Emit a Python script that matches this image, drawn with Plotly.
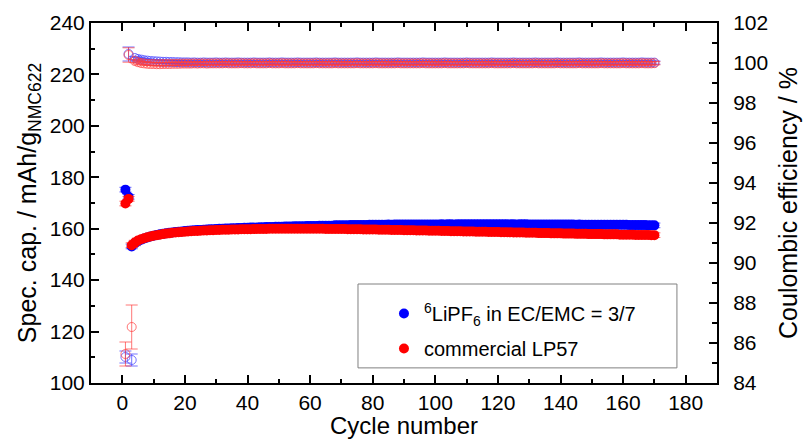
import plotly.graph_objects as go

cycles = list(range(1, 171))

cap_blue = [175.2, 172.4, 153.1, 154.3, 155.1, 155.7, 156.2, 156.6, 157.0, 157.3,
            157.6, 157.8, 158.0, 158.2, 158.4, 158.5, 158.7, 158.8, 158.9, 159.1,
            159.2, 159.3, 159.4, 159.5, 159.5, 159.6, 159.7, 159.8, 159.8, 159.9,
            160.0, 160.0, 160.1, 160.1, 160.2, 160.2, 160.3, 160.3, 160.4, 160.4,
            160.5, 160.5, 160.5, 160.6, 160.6, 160.7, 160.7, 160.7, 160.8, 160.8,
            160.8, 160.9, 160.9, 160.9, 161.0, 161.0, 161.0, 161.0, 161.1, 161.1,
            161.1, 161.1, 161.2, 161.2, 161.2, 161.2, 161.2, 161.3, 161.3, 161.3,
            161.3, 161.3, 161.4, 161.4, 161.4, 161.4, 161.4, 161.4, 161.5, 161.5,
            161.5, 161.5, 161.5, 161.5, 161.6, 161.5, 161.6, 161.6, 161.6, 161.6,
            161.6, 161.6, 161.6, 161.6, 161.6, 161.6, 161.6, 161.6, 161.6, 161.6,
            161.6, 161.7, 161.6, 161.7, 161.7, 161.6, 161.7, 161.7, 161.7, 161.7,
            161.7, 161.7, 161.7, 161.7, 161.7, 161.7, 161.7, 161.7, 161.7, 161.7,
            161.7, 161.7, 161.7, 161.7, 161.7, 161.6, 161.7, 161.7, 161.7, 161.6,
            161.6, 161.6, 161.6, 161.6, 161.6, 161.6, 161.6, 161.6, 161.6, 161.6,
            161.6, 161.6, 161.6, 161.6, 161.5, 161.6, 161.5, 161.5, 161.5, 161.5,
            161.5, 161.5, 161.5, 161.5, 161.5, 161.5, 161.5, 161.5, 161.5, 161.5,
            161.5, 161.4, 161.4, 161.4, 161.4, 161.4, 161.4, 161.3, 161.3, 161.3]

cap_red = [169.8, 171.6, 153.6, 154.6, 155.4, 155.9, 156.3, 156.7, 157.0, 157.3,
           157.5, 157.7, 157.9, 158.1, 158.2, 158.4, 158.5, 158.6, 158.7, 158.8,
           158.9, 159.0, 159.1, 159.1, 159.2, 159.3, 159.3, 159.4, 159.4, 159.5,
           159.5, 159.6, 159.6, 159.6, 159.7, 159.7, 159.7, 159.8, 159.8, 159.8,
           159.8, 159.9, 159.9, 159.9, 159.9, 159.9, 160.0, 160.0, 160.0, 160.0,
           160.0, 160.0, 160.0, 160.0, 160.0, 160.0, 160.0, 160.0, 160.0, 160.0,
           160.0, 160.0, 160.0, 160.0, 159.9, 159.9, 159.9, 159.9, 159.9, 159.9,
           159.9, 159.8, 159.8, 159.8, 159.8, 159.8, 159.7, 159.7, 159.7, 159.7,
           159.7, 159.6, 159.6, 159.6, 159.6, 159.5, 159.5, 159.5, 159.5, 159.4,
           159.4, 159.4, 159.4, 159.3, 159.3, 159.3, 159.3, 159.2, 159.2, 159.2,
           159.2, 159.1, 159.1, 159.1, 159.0, 159.0, 159.0, 159.0, 158.9, 158.9,
           158.9, 158.9, 158.8, 158.8, 158.8, 158.8, 158.7, 158.7, 158.7, 158.7,
           158.6, 158.6, 158.6, 158.6, 158.5, 158.5, 158.5, 158.5, 158.4, 158.4,
           158.4, 158.4, 158.3, 158.3, 158.3, 158.3, 158.2, 158.2, 158.2, 158.2,
           158.1, 158.1, 158.1, 158.1, 158.0, 158.0, 158.0, 158.0, 157.9, 157.9,
           157.9, 157.9, 157.9, 157.8, 157.8, 157.8, 157.8, 157.8, 157.7, 157.7,
           157.7, 157.7, 157.7, 157.6, 157.6, 157.6, 157.6, 157.6, 157.5, 157.5]

ce_blue = [85.30, 100.45, 85.15, 100.25, 100.20, 100.17, 100.14, 100.12, 100.10, 100.09,
           100.08, 100.07, 100.06, 100.06, 100.05, 100.05, 100.04, 100.04, 100.03, 100.03,
           100.03, 100.02, 100.03, 100.02, 100.02, 100.03, 100.02, 100.02, 100.02, 100.03,
           100.02, 100.02, 100.03, 100.02, 100.02, 100.02, 100.03, 100.02, 100.02, 100.02,
           100.02, 100.03, 100.02, 100.02, 100.02, 100.02, 100.03, 100.02, 100.02, 100.02,
           100.03, 100.02, 100.02, 100.02, 100.02, 100.03, 100.02, 100.02, 100.02, 100.02,
           100.02, 100.03, 100.02, 100.02, 100.02, 100.02, 100.02, 100.03, 100.02, 100.02,
           100.02, 100.02, 100.02, 100.02, 100.03, 100.02, 100.02, 100.02, 100.02, 100.02,
           100.03, 100.02, 100.02, 100.02, 100.02, 100.02, 100.02, 100.03, 100.02, 100.02,
           100.02, 100.02, 100.02, 100.02, 100.02, 100.03, 100.02, 100.02, 100.02, 100.02,
           100.02, 100.02, 100.03, 100.02, 100.02, 100.02, 100.02, 100.02, 100.02, 100.03,
           100.02, 100.02, 100.02, 100.02, 100.02, 100.02, 100.02, 100.03, 100.02, 100.02,
           100.02, 100.02, 100.02, 100.02, 100.03, 100.02, 100.02, 100.02, 100.02, 100.02,
           100.02, 100.03, 100.02, 100.02, 100.02, 100.02, 100.02, 100.02, 100.03, 100.02,
           100.02, 100.02, 100.02, 100.02, 100.02, 100.03, 100.02, 100.02, 100.02, 100.02,
           100.02, 100.02, 100.03, 100.02, 100.02, 100.02, 100.02, 100.02, 100.02, 100.03,
           100.02, 100.02, 100.02, 100.02, 100.02, 100.03, 100.02, 100.02, 100.02, 100.02]

ce_red = [85.45, 100.40, 86.80, 100.10, 100.04, 100.00, 99.98, 99.96, 99.95, 99.95,
          99.94, 99.94, 99.95, 99.95, 99.95, 99.96, 99.96, 99.96, 99.97, 99.97,
          99.97, 99.97, 99.98, 99.97, 99.98, 99.98, 99.97, 99.98, 99.98, 99.98,
          99.98, 99.98, 99.99, 99.98, 99.98, 99.98, 99.98, 99.99, 99.98, 99.98,
          99.98, 99.99, 99.98, 99.98, 99.98, 99.98, 99.99, 99.98, 99.98, 99.98,
          99.99, 99.98, 99.98, 99.98, 99.98, 99.99, 99.98, 99.98, 99.98, 99.98,
          99.98, 99.99, 99.98, 99.98, 99.98, 99.98, 99.98, 99.99, 99.98, 99.98,
          99.98, 99.98, 99.98, 99.98, 99.99, 99.98, 99.98, 99.98, 99.98, 99.98,
          99.99, 99.98, 99.98, 99.98, 99.98, 99.98, 99.98, 99.99, 99.98, 99.98,
          99.98, 99.98, 99.98, 99.98, 99.98, 99.99, 99.98, 99.98, 99.98, 99.98,
          99.98, 99.98, 99.99, 99.98, 99.98, 99.98, 99.98, 99.98, 99.98, 99.99,
          99.98, 99.98, 99.98, 99.98, 99.98, 99.98, 99.98, 99.99, 99.98, 99.98,
          99.98, 99.98, 99.98, 99.98, 99.99, 99.98, 99.98, 99.98, 99.98, 99.98,
          99.98, 99.99, 99.98, 99.98, 99.98, 99.98, 99.98, 99.98, 99.99, 99.98,
          99.98, 99.98, 99.98, 99.98, 99.98, 99.99, 99.98, 99.98, 99.98, 99.98,
          99.98, 99.98, 99.99, 99.98, 99.98, 99.98, 99.98, 99.98, 99.98, 99.99,
          99.98, 99.98, 99.98, 99.98, 99.98, 99.99, 99.98, 99.98, 99.98, 99.99]

cap_err = 0.9
ce_err_blue_first = [0.30, 0.35, 0.30]
ce_err_red_first = [0.60, 0.36, 1.10]
ce_err_rest = 0.08

ce_err_blue = ce_err_blue_first + [ce_err_rest] * (len(cycles) - 3)
ce_err_red = ce_err_red_first + [ce_err_rest] * (len(cycles) - 3)

series_names = ["<sup>6</sup>LiPF<sub>6</sub> in EC/EMC = 3/7", "commercial LP57"]

BLUE = "#0000FF"
RED = "#FF0000"
FONT = "Liberation Sans, Arial, sans-serif"

fig = go.Figure()

# Coulombic efficiency (open circles, right axis)
fig.add_trace(go.Scatter(
    x=cycles, y=ce_blue, yaxis="y2", mode="markers", showlegend=False,
    marker=dict(symbol="circle-open", size=9, color="rgba(70,70,255,0.75)", line=dict(width=1)),
    error_y=dict(type="data", array=ce_err_blue, color="rgba(70,70,255,0.75)", thickness=1, width=6),
))
fig.add_trace(go.Scatter(
    x=cycles, y=ce_red, yaxis="y2", mode="markers", showlegend=False,
    marker=dict(symbol="circle-open", size=9, color="rgba(255,60,60,0.7)", line=dict(width=1)),
    error_y=dict(type="data", array=ce_err_red, color="rgba(255,60,60,0.7)", thickness=1, width=6),
))

# Specific capacity (filled circles, left axis)
fig.add_trace(go.Scatter(
    x=cycles, y=cap_blue, mode="markers", name=series_names[0], legendgroup="a",
    marker=dict(symbol="circle", size=10, color=BLUE),
    error_y=dict(type="constant", value=cap_err, color="rgba(60,60,255,0.8)", thickness=1, width=6),
))
fig.add_trace(go.Scatter(
    x=cycles, y=cap_red, mode="markers", name=series_names[1], legendgroup="b",
    marker=dict(symbol="circle", size=10, color=RED),
    error_y=dict(type="constant", value=cap_err, color="rgba(255,60,60,0.8)", thickness=1, width=6),
))

axis_common = dict(
    showline=True, linecolor="black", linewidth=2,
    ticks="inside", ticklen=8, tickwidth=2, tickcolor="black",
    showgrid=False, zeroline=False, automargin=False,
    tickfont=dict(family=FONT, size=21, color="black"),
)

fig.update_layout(
    width=808, height=439,
    margin=dict(l=91, r=91, t=23, b=56),
    paper_bgcolor="white", plot_bgcolor="white",
    font=dict(family=FONT, color="black"),
    xaxis=dict(
        **axis_common, range=[-10, 190], tick0=0, dtick=20, mirror="ticks",
        minor=dict(ticks="inside", ticklen=4, tickwidth=2, tickcolor="black", dtick=10, tick0=0),
        title=dict(text="Cycle number", font=dict(family=FONT, size=24), standoff=8),
    ),
    yaxis=dict(
        **axis_common, range=[100, 240], tick0=100, dtick=20,
        minor=dict(ticks="inside", ticklen=4, tickwidth=2, tickcolor="black", dtick=10, tick0=100),
        title=dict(text="Spec. cap. / mAh/g<sub>NMC622</sub>", font=dict(family=FONT, size=25), standoff=6),
    ),
    yaxis2=dict(
        **axis_common, range=[84, 102], tick0=84, dtick=2, overlaying="y", side="right",
        minor=dict(ticks="inside", ticklen=5, tickwidth=2, tickcolor="black", dtick=1, tick0=84),
        ticklabelstandoff=10,
        title=dict(text="Coulombic efficiency / %", font=dict(family=FONT, size=25), standoff=12),
    ),
    legend=dict(
        x=0.468, y=0.247, xanchor="left", yanchor="top",
        bgcolor="rgba(0,0,0,0)", borderwidth=0,
        font=dict(family=FONT, size=20, color="black"),
        tracegroupgap=6,
    ),
    shapes=[dict(type="rect", xref="paper", yref="paper",
                 x0=0.4265, x1=0.936, y0=0.042, y1=0.275,
                 line=dict(color="#808080", width=1), fillcolor="white", layer="below")],
)

fig.write_html("out.html")
